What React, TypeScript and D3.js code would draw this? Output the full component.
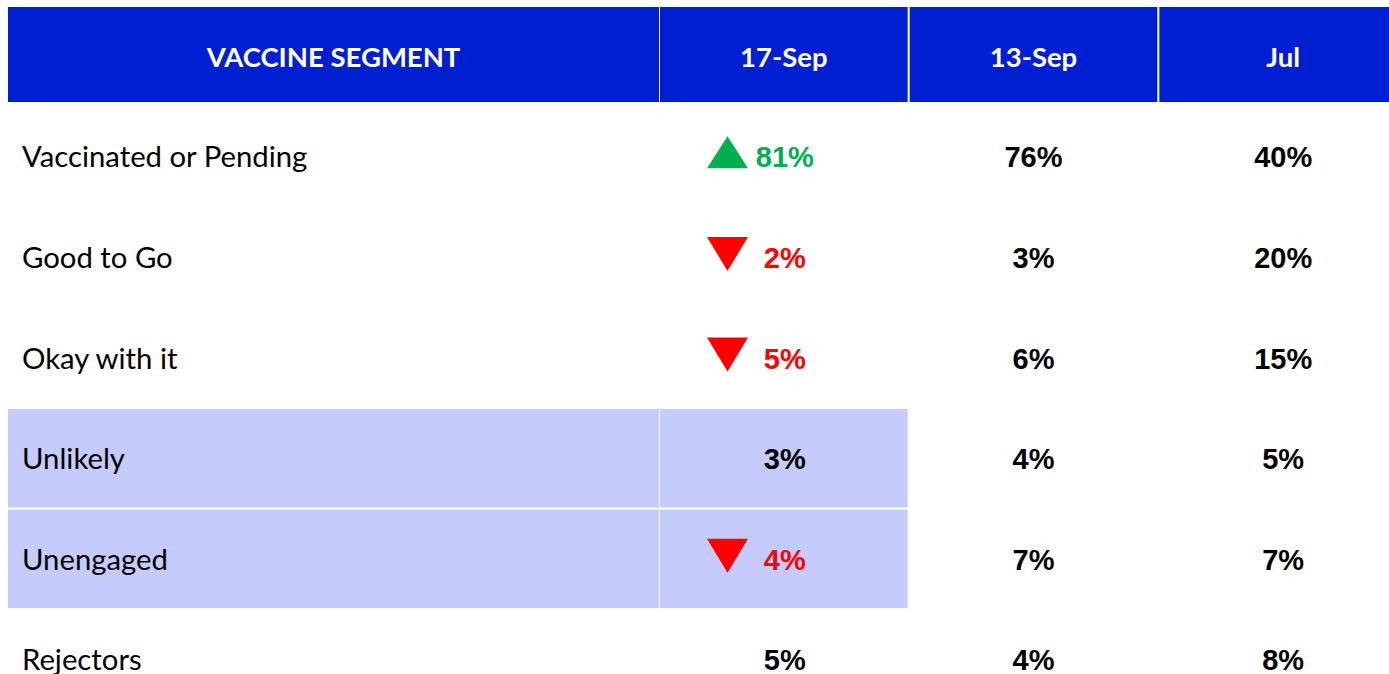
import React from "react";
import * as d3 from "d3";

const headerTitle = "VACCINE SEGMENT";
const periods = ["17-Sep", "13-Sep", "Jul"];
const segments = ["Vaccinated or Pending", "Good to Go", "Okay with it", "Unlikely", "Unengaged", "Rejectors"];
const sep17 = [81, 2, 5, 3, 4, 5];
const sep13 = [76, 3, 6, 4, 7, 4];
const jul = [40, 20, 15, 5, 7, 8];
const change = ["up", "down", "down", null, "down", null];
const highlighted = ["Unlikely", "Unengaged"];

const W = 1389;
const H = 674;
const BLUE = "#001ED2";
const LIGHT = "#C5CBFC";
const GREEN = "#00B050";
const RED = "#FF0000";

export default function App() {
  const series = [sep17, sep13, jul];
  const colX = d3.scaleBand<string>().domain(periods).range([660, 660 + 3 * 249]).paddingInner(2 / 249).paddingOuter(0);
  const labelX0 = 8;
  const labelX1 = 659;
  const headerTop = 7;
  const headerBottom = 102;
  const rowY = d3.scaleBand<string>().domain(segments).range([107, 107 + 6 * 100.3]).paddingInner(2 / 100.3).paddingOuter(0);
  const line = d3.line();
  const numFont = "'Liberation Sans', Arial, sans-serif";
  const labelFont = "Lato, 'Open Sans', sans-serif";
  const triX0 = 707;
  const triW = 41;

  const triangle = (dir: string, cy: number) => {
    const pts: [number, number][] =
      dir === "up"
        ? [[triX0, cy + 12], [triX0 + triW, cy + 12], [triX0 + triW / 2, cy - 20]]
        : [[triX0, cy - 20], [triX0 + triW, cy - 20], [triX0 + triW / 2, cy + 14]];
    return line(pts) + "Z";
  };

  return (
    <svg width={W} height={H} style={{ position: "absolute", left: 0, top: 0, background: "#fff" }}>
      {/* header */}
      <rect x={labelX0} y={headerTop} width={labelX1 - labelX0} height={headerBottom - headerTop} fill={BLUE} />
      <text x={(labelX0 + labelX1) / 2} y={(headerTop + headerBottom) / 2 + 12} textAnchor="middle" fill="#fff"
        fontFamily={labelFont} fontWeight={700} fontSize={27.5}>{headerTitle}</text>
      {periods.map((p) => (
        <g key={p}>
          <rect x={colX(p)} y={headerTop} width={colX.bandwidth()} height={headerBottom - headerTop} fill={BLUE} />
          <text x={(colX(p) as number) + colX.bandwidth() / 2} y={(headerTop + headerBottom) / 2 + 12} textAnchor="middle"
            fill="#fff" fontFamily={labelFont} fontWeight={700} fontSize={27.5}>{p}</text>
        </g>
      ))}
      {/* rows */}
      {segments.map((s, i) => {
        const top = rowY(s) as number;
        const h = rowY.bandwidth();
        const cy = top + h / 2;
        const hl = highlighted.includes(s);
        const ch = change[i];
        const color = ch === "up" ? GREEN : ch === "down" ? RED : "#000";
        return (
          <g key={s}>
            {hl && (
              <>
                <rect x={labelX0} y={top} width={labelX1 - labelX0} height={h} fill={LIGHT} />
                <rect x={colX(periods[0])} y={top} width={colX.bandwidth()} height={h} fill={LIGHT} />
              </>
            )}
            <text x={22} y={cy + 11} fill="#000" fontFamily={labelFont} fontSize={29.3}>{s}</text>
            {ch && <path d={triangle(ch, cy)} fill={color} />}
            {series.map((vals, j) => (
              <text key={j} x={(colX(periods[j]) as number) + colX.bandwidth() / 2 + (j === 0 ? 1 : 0)} y={cy + 11}
                textAnchor="middle" fill={j === 0 ? color : "#000"} fontFamily={numFont} fontWeight={700} fontSize={29}>
                {vals[i]}%
              </text>
            ))}
          </g>
        );
      })}
    </svg>
  );
}
